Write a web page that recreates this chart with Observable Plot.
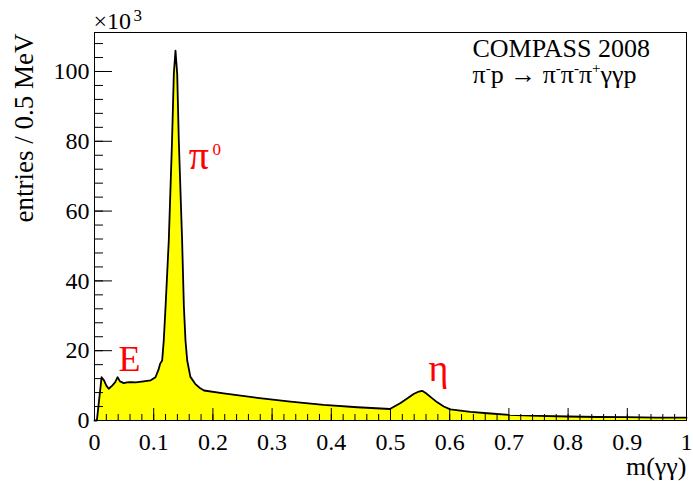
<!DOCTYPE html>
<html>
<head>
<meta charset="utf-8">
<script src="https://cdn.jsdelivr.net/npm/d3@7"></script>
<script src="https://cdn.jsdelivr.net/npm/@observablehq/plot@0.6"></script>
<style>
  body { margin: 0; background: #fff; }
  svg text { font-family: 'Liberation Serif', 'Times New Roman', serif; }
</style>
</head>
<body>
<div id="chart"></div>
<script>
// m(γγ) in GeV/c^2
const mass = [
  0.000, 0.004, 0.012, 0.016, 0.020, 0.024, 0.030, 0.035, 0.039, 0.043,
  0.0495, 0.055, 0.061, 0.070, 0.083, 0.095, 0.103, 0.108, 0.111, 0.1143,
  0.117, 0.120, 0.1255, 0.131, 0.134, 0.1368, 0.1397, 0.1424, 0.148, 0.151,
  0.1537, 0.1566, 0.162, 0.170, 0.178, 0.185, 0.218, 0.275, 0.331, 0.387,
  0.444, 0.499, 0.502, 0.517, 0.530, 0.539, 0.548, 0.5535, 0.560, 0.568,
  0.579, 0.590, 0.601, 0.635, 0.669, 0.700, 0.750, 0.800, 0.850, 0.900,
  0.950, 1.000
];
// entries / 0.5 MeV, in units of 10^3
const entries = [
  0.0, 0.0, 12.4, 11.5, 10.0, 9.1, 10.0, 11.0, 12.4, 11.2,
  10.7, 10.9, 11.0, 10.9, 11.2, 11.5, 12.4, 14.5, 16.3, 17.2,
  22.9, 32.5, 51.6, 80.2, 99.3, 106.0, 99.3, 80.2, 51.6, 32.5,
  22.9, 17.2, 12.5, 10.5, 9.3, 8.6, 7.8, 6.5, 5.4, 4.5,
  3.8, 3.3, 3.6, 5.0, 6.5, 7.6, 8.3, 8.5, 7.8, 6.7,
  5.2, 4.0, 3.2, 2.5, 2.0, 1.6, 1.35, 1.15, 1.0, 0.95,
  0.85, 0.8
];

const xTickLabels = [0, 0.1, 0.2, 0.3, 0.4, 0.5, 0.6, 0.7, 0.8, 0.9, 1];
const yTickLabels = [0, 20, 40, 60, 80, 100];
const xMinorTicks = d3.range(0, 51).map(i => i / 50);
const yMinorTicks = d3.range(0, 28).map(i => i * 4);

const data = mass.map((m, i) => ({m, n: entries[i]}));
const font = "'Liberation Serif', 'Times New Roman', serif";

const chart = Plot.plot({
  width: 693,
  height: 481,
  marginLeft: 94,
  marginRight: 7,
  marginTop: 32,
  marginBottom: 61,
  style: {fontFamily: font, fontSize: "24px", color: "black", background: "white"},
  x: {domain: [0, 1], axis: null},
  y: {domain: [0, 111.17], axis: null},
  marks: [
    Plot.areaY(data, {x: "m", y: "n", fill: "#ffff00", curve: "linear"}),
    Plot.lineY(data, {x: "m", y: "n", stroke: "black", strokeWidth: 1.8, curve: "linear"}),
    // inward ticks
    Plot.axisX(xMinorTicks, {tickSize: -6, tickFormat: () => "", label: null, stroke: "black"}),
    Plot.axisX(xTickLabels, {tickSize: -12, tickFormat: () => "", label: null, stroke: "black"}),
    Plot.axisY(yMinorTicks.filter(v => v <= 111), {tickSize: -9, tickFormat: () => "", label: null, stroke: "black"}),
    Plot.axisY(yTickLabels, {tickSize: -18, tickFormat: () => "", label: null, stroke: "black"}),
    // labels
    Plot.axisX(xTickLabels, {tickSize: 0, tickPadding: 12, tickFormat: d => String(d), label: null,
      fontSize: 24, fontFamily: font}),
    Plot.axisY(yTickLabels, {tickSize: 0, tickPadding: 5, tickFormat: d => String(d), label: null,
      fontSize: 24, fontFamily: font}),
    Plot.frame({stroke: "black", strokeWidth: 1}),
    // axis titles
    Plot.text(["entries / 0.5 MeV"], {frameAnchor: "top-left", text: d => d, rotate: -90,
      textAnchor: "end", lineAnchor: "bottom", dx: -62, dy: 1, fontSize: 27, fontFamily: font}),
    Plot.text(["m(γγ)"], {frameAnchor: "bottom-right", text: d => d, textAnchor: "end",
      lineAnchor: "bottom", dy: 54, fontSize: 26, fontFamily: font}),
    Plot.text(["×10"], {frameAnchor: "top-left", text: d => d, textAnchor: "start",
      lineAnchor: "bottom", dx: -1, dy: -4, fontSize: 24, fontFamily: font}),
    Plot.text(["3"], {frameAnchor: "top-left", text: d => d, textAnchor: "start",
      lineAnchor: "bottom", dx: 39, dy: -12, fontSize: 17, fontFamily: font}),
    // legend text
    Plot.text(["COMPASS 2008"], {frameAnchor: "top-left", text: d => d, textAnchor: "start",
      lineAnchor: "bottom", dx: 378, dy: 24, fontSize: 26, fontFamily: font}),
    Plot.text(["π-p → π-π-π+γγp"], {frameAnchor: "top-left", text: d => d, textAnchor: "start",
      lineAnchor: "bottom", dx: 378, dy: 50, fontSize: 26, fontFamily: font, className: "reaction"}),
    // peak annotations
    Plot.text(["π"], {x: 0.159, y: 72.2, text: d => d, textAnchor: "start", lineAnchor: "bottom",
      fill: "red", fontSize: 40, fontFamily: font}),
    Plot.text(["0"], {x: 0.1995, y: 76, text: d => d, textAnchor: "start", lineAnchor: "bottom",
      fill: "red", fontSize: 17, fontFamily: font}),
    Plot.text(["E"], {x: 0.0405, y: 14.3, text: d => d, textAnchor: "start", lineAnchor: "bottom",
      fill: "red", fontSize: 36, fontFamily: font}),
    Plot.text(["η"], {x: 0.564, y: 11.2, text: d => d, textAnchor: "start", lineAnchor: "bottom",
      fill: "red", fontSize: 38, fontFamily: font})
  ]
});
document.getElementById("chart").appendChild(chart);

// superscripts in the reaction label
d3.select(chart).selectAll("g.reaction text").each(function() {
  const t = d3.select(this);
  const parts = [["π", 0], ["-", 1], ["p → π", 0], ["-", 1], ["π", 0], ["-", 1], ["π", 0], ["+", 1], ["γγp", 0]];
  t.text(null);
  let prevSup = false;
  parts.forEach(([s, sup]) => {
    const sp = t.append("tspan").text(s);
    if (sup) sp.attr("dy", "-10px").attr("font-size", "15px");
    else if (prevSup) sp.attr("dy", "10px");
    prevSup = !!sup;
  });
});
</script>
</body>
</html>
